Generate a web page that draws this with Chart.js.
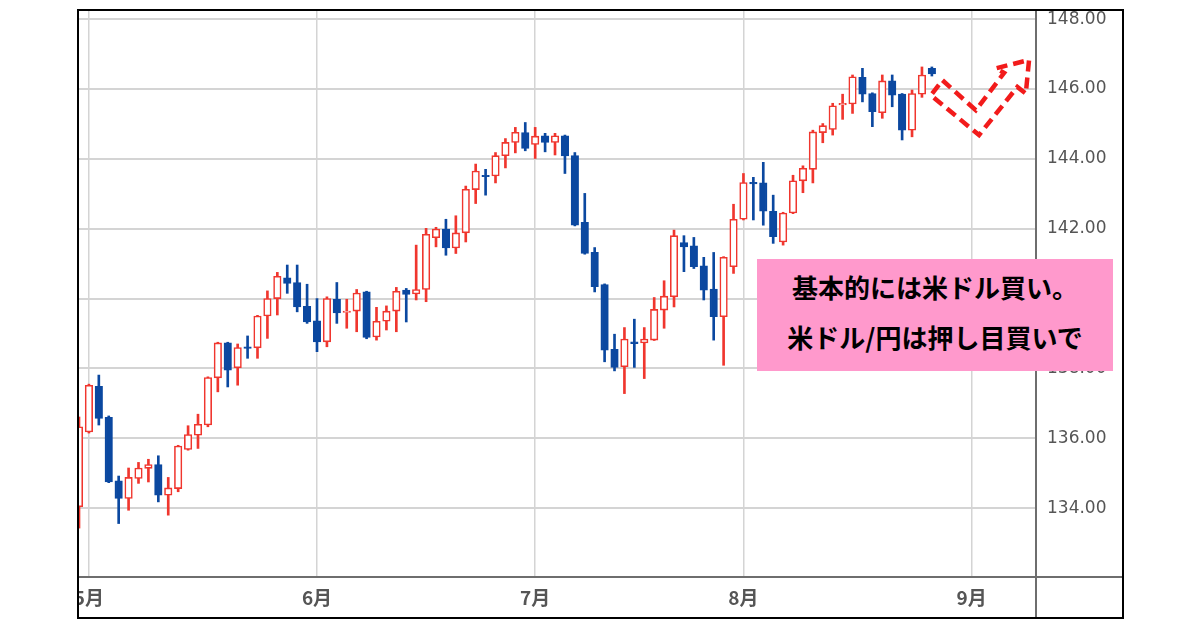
<!DOCTYPE html>
<html>
<head>
<meta charset="utf-8">
<script src="https://cdn.jsdelivr.net/npm/chart.js@4.4.1/dist/chart.umd.min.js"></script>
<style>
  html, body { margin: 0; padding: 0; background: #fff; }
  #wrap { position: relative; width: 1200px; height: 630px; }
  #note {
    position: absolute; left: 757px; top: 259px; width: 356px; height: 112px;
    background: #ff99cc; box-sizing: border-box; padding-top: 3px;
    font-family: "Noto Sans CJK JP", sans-serif; font-weight: 700; font-size: 26px;
    line-height: 50px; text-align: center; color: #000;
  }
</style>
</head>
<body>
<div id="wrap">
  <canvas id="mycanvas" width="1200" height="630"></canvas>
  <div id="note">基本的には米ドル買い。<br>米ドル/円は押し目買いで</div>
</div>
<script>
// trading days (last ones are empty space to the right)
var dates = [
  "4/28",
  "5/1","5/2","5/3","5/4","5/5","5/8","5/9","5/10","5/11","5/12",
  "5/15","5/16","5/17","5/18","5/19","5/22","5/23","5/24","5/25","5/26",
  "5/29","5/30","5/31","6/1","6/2","6/5","6/6","6/7","6/8","6/9",
  "6/12","6/13","6/14","6/15","6/16","6/19","6/20","6/21","6/22","6/23",
  "6/26","6/27","6/28","6/29","6/30","7/3","7/4","7/5","7/6","7/7",
  "7/10","7/11","7/12","7/13","7/14","7/17","7/18","7/19","7/20","7/21",
  "7/24","7/25","7/26","7/27","7/28","7/31","8/1","8/2","8/3","8/4",
  "8/7","8/8","8/9","8/10","8/11","8/14","8/15","8/16","8/17","8/18",
  "8/21","8/22","8/23","8/24","8/25","8/28","8/29","8/30","8/31","9/1",
  "9/4","9/5","9/6","9/7","9/8","9/11"
];

var open = [
  134.04,
  136.18,137.49,136.60,134.78,134.28,134.85,135.14,135.25,134.37,134.56,
  135.68,136.09,136.38,137.73,138.73,138.02,138.62,138.59,139.50,140.00,
  140.59,140.46,139.78,139.36,138.76,139.98,139.60,139.64,140.19,138.90,
  139.35,139.64,140.24,140.13,140.26,141.74,141.99,141.45,141.88,143.12,
  143.53,143.51,144.09,144.47,144.75,144.41,144.66,144.47,144.66,144.09,
  142.18,141.32,140.40,138.55,138.05,138.76,138.73,138.81,139.67,140.05,
  141.60,141.51,140.94,140.27,139.48,140.91,142.27,143.33,143.31,142.50,
  141.62,142.45,143.37,143.70,144.75,144.84,145.54,145.57,146.33,145.87,
  145.32,146.23,145.85,144.82,145.85,146.59
];
var high = [
  136.61,
  137.55,137.81,136.64,134.92,135.15,135.31,135.40,135.50,134.88,135.80,
  136.36,136.69,137.76,138.75,138.75,138.70,138.93,139.52,140.22,140.75,
  140.96,140.96,140.41,140.00,140.05,140.46,139.98,140.26,140.21,139.75,
  139.79,140.32,140.29,141.53,142.01,142.04,142.27,142.37,143.22,143.85,
  143.70,144.18,144.58,144.90,145.04,144.90,144.73,144.73,144.68,144.18,
  143.01,141.46,140.42,138.98,139.17,139.41,139.17,140.03,140.51,141.96,
  141.80,141.75,141.18,141.32,141.20,142.70,143.58,143.47,143.90,142.96,
  142.47,143.53,143.80,144.82,145.01,145.59,145.85,146.40,146.59,145.89,
  146.40,146.40,145.87,145.97,146.63,146.63
];
var low = [
  133.43,
  136.15,136.38,134.73,133.56,133.94,134.71,134.75,134.18,133.80,134.47,
  135.66,135.71,136.33,137.33,137.47,137.52,138.29,138.29,138.86,139.53,
  140.15,139.62,139.29,138.48,138.62,139.29,139.15,139.05,138.85,138.81,
  139.10,139.05,139.33,139.96,139.91,141.48,141.24,141.29,141.62,142.72,
  142.96,143.31,143.74,144.17,144.23,144.01,144.20,144.11,143.58,142.08,
  141.27,140.19,138.19,137.93,137.28,138.03,137.71,138.80,139.15,139.76,
  140.77,140.86,139.96,138.81,138.09,140.72,142.25,142.25,142.10,141.58,
  141.53,142.43,143.03,143.31,144.46,144.68,145.13,145.30,145.63,144.92,
  145.16,145.49,144.54,144.63,145.76,146.37
];
var close = [
  136.33,
  137.52,136.57,134.75,134.28,134.88,135.15,135.25,134.37,134.58,135.78,
  136.11,136.40,137.74,138.73,137.95,138.60,138.57,139.50,140.00,140.64,
  140.43,139.76,139.33,138.76,140.00,139.59,139.64,140.16,138.89,139.35,
  139.64,140.21,140.12,140.26,141.84,141.99,141.45,141.88,143.13,143.65,
  143.49,144.09,144.47,144.76,144.30,144.65,144.47,144.66,144.08,142.10,
  141.29,140.34,138.52,138.03,138.84,138.71,138.84,139.69,140.07,141.80,
  141.48,140.91,140.24,139.48,141.18,142.27,143.32,143.28,142.50,141.77,
  142.45,143.37,143.73,144.77,144.95,145.52,145.59,146.35,145.85,145.35,
  146.23,145.82,144.82,145.87,146.40,146.43
];

var yTicks = [134, 136, 138, 140, 142, 144, 146, 148];
var monthLabels = ["5月", "6月", "7月", "8月", "9月"];

var upColor = "#f0362e";
var downColor = "#0b48a0";

// first trading day of every month
var monthStarts = [];
for (var i = 1; i < dates.length; i++) {
  if (dates[i].split("/")[0] !== dates[i - 1].split("/")[0]) monthStarts.push(i);
}

var wicks = [], bodies = [], candleColors = [], bodyFill = [];
for (var i = 0; i < open.length; i++) {
  wicks.push({ x: i, y: [low[i], high[i]] });
  bodies.push({ x: i, y: [open[i], close[i]] });
  var up = close[i] >= open[i];
  candleColors.push(up ? upColor : downColor);
  bodyFill.push(up ? "#ffffff" : downColor);
}

// dashed forecast arrow, in (day index, price) units
var arrowPath = [
  [87.07, 146.25], [90.43, 145.39], [93.28, 146.46], [92.45, 146.59],
  [95.80, 146.83], [95.47, 145.87], [94.62, 146.06], [90.76, 144.68],
  [85.90, 145.82]
];

var framePlugin = {
  id: "frame",
  afterDraw: function (chart) {
    var ctx = chart.ctx, a = chart.chartArea;
    var xs = chart.scales.x, ys = chart.scales.y;
    ctx.save();
    // anything left of the frame is cut off
    ctx.fillStyle = "#fff";
    ctx.fillRect(0, 0, 78, 630);
    // arrow
    ctx.beginPath();
    arrowPath.forEach(function (p, k) {
      var px = xs.getPixelForValue(p[0]), py = ys.getPixelForValue(p[1]);
      if (k === 0) ctx.moveTo(px, py); else ctx.lineTo(px, py);
    });
    ctx.closePath();
    ctx.setLineDash([11, 6]);
    ctx.lineWidth = 4.5;
    ctx.lineJoin = "miter";
    ctx.strokeStyle = "#f21b1b";
    ctx.stroke();
    ctx.setLineDash([]);
    // inner lines
    ctx.strokeStyle = "#6e6e6e";
    ctx.lineWidth = 2;
    ctx.beginPath();
    ctx.moveTo(a.left, a.bottom); ctx.lineTo(1123, a.bottom);
    ctx.moveTo(a.right, 10); ctx.lineTo(a.right, 618);
    ctx.stroke();
    // outer frame
    ctx.strokeStyle = "#000";
    ctx.strokeRect(78, 10, 1045, 608);
    ctx.restore();
  }
};

var ctx = document.getElementById("mycanvas");
var chart = new Chart(ctx, {
  type: "bar",
  data: {
    datasets: [
      {
        label: "wick",
        data: wicks,
        backgroundColor: candleColors,
        borderWidth: 0,
        barThickness: 2,
        grouped: false,
        order: 2
      },
      {
        label: "body",
        data: bodies,
        backgroundColor: bodyFill,
        borderColor: candleColors,
        borderWidth: 1.6,
        borderSkipped: false,
        barThickness: 7.5,
        grouped: false,
        order: 1
      }
    ]
  },
  options: {
    responsive: false,
    animation: false,
    layout: { padding: { left: 78, top: 10, right: 77, bottom: 12 } },
    plugins: { legend: { display: false }, tooltip: { enabled: false } },
    scales: {
      x: {
        type: "linear",
        min: -0.1,
        max: 96.5,
        offset: false,
        afterBuildTicks: function (scale) {
          scale.ticks = monthStarts.map(function (v) { return { value: v }; });
        },
        afterFit: function (scale) {
          scale.height = 41;
          scale.paddingLeft = 0;
          scale.paddingRight = 0;
        },
        ticks: {
          autoSkip: false,
          maxRotation: 0,
          padding: 9,
          color: "#555",
          font: { family: "'Noto Sans CJK JP', sans-serif", size: 19, weight: "bold" },
          callback: function (v) {
            var k = monthStarts.indexOf(v);
            return k >= 0 ? monthLabels[k] : "";
          }
        },
        grid: { color: "#d4d4d4", lineWidth: 1.5, drawTicks: false, offset: false },
        border: { display: false }
      },
      y: {
        position: "right",
        min: 132.03,
        max: 148.26,
        afterBuildTicks: function (scale) {
          scale.ticks = yTicks.map(function (v) { return { value: v }; });
        },
        afterFit: function (scale) {
          scale.width = 87;
          scale.paddingTop = 0;
          scale.paddingBottom = 0;
        },
        ticks: {
          padding: 11,
          color: "#555",
          font: { family: "'DejaVu Sans', sans-serif", size: 17 },
          callback: function (v) { return v.toFixed(2); }
        },
        grid: { color: "#d4d4d4", lineWidth: 2, drawTicks: false },
        border: { display: false }
      }
    }
  },
  plugins: [framePlugin]
});
</script>
</body>
</html>
